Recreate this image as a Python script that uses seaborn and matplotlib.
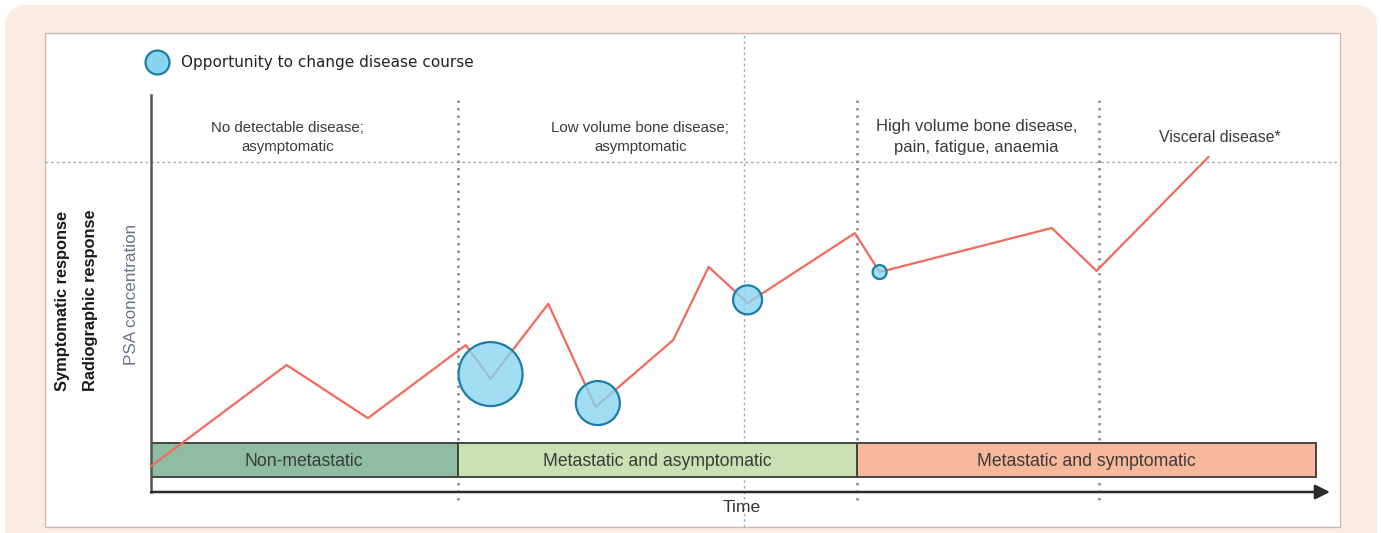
import matplotlib
matplotlib.use("Agg")
import matplotlib.pyplot as plt
import seaborn as sns
import pandas as pd
from matplotlib.patches import FancyBboxPatch, Rectangle

# ---------------- data ----------------
time = [0.0, 11.5, 18.4, 26.7, 28.8, 33.7, 37.7, 44.3, 47.3, 50.6, 59.7, 61.8, 76.4, 80.2, 89.7]
psa = [6.5, 32.0, 18.6, 37.0, 28.5, 47.4, 21.4, 38.3, 56.7, 47.6, 65.2, 55.4, 66.5, 55.7, 84.4]

opp_time = [28.8, 37.9, 50.6, 61.8]
opp_psa = [29.7, 22.4, 48.4, 55.4]
opp_size = [32, 22, 14.5, 7]          # relative magnitude of opportunity

phase_names = ["Non-metastatic", "Metastatic and asymptomatic", "Metastatic and symptomatic"]
phase_start = [0.0, 26.0, 59.9]
phase_end = [26.0, 59.9, 98.8]
phase_colors = ["#8fbda2", "#cae1b4", "#f8b89b"]

stage_labels = ["No detectable disease;\nasymptomatic",
                "Low volume bone disease;\nasymptomatic",
                "High volume bone disease,\npain, fatigue, anaemia",
                "Visceral disease*"]
stage_label_x = [11.6, 41.5, 70.0, 90.7]
stage_label_fs = [10.8, 10.8, 12.0, 11.4]
stage_bounds = [26.0, 59.9, 80.4]
midline_x = 50.3
visceral_threshold = 83.1

# ---------------- style ----------------
sns.set_theme(style="white")
plt.rcParams["font.family"] = ["Liberation Sans", "DejaVu Sans"]

W, H = 1381, 533
fig = plt.figure(figsize=(W / 100, H / 100), dpi=100, facecolor="white")

bg = fig.add_axes([0, 0, 1, 1], zorder=0)
bg.set_xlim(0, W)
bg.set_ylim(H, 0)
bg.axis("off")
bg.add_patch(FancyBboxPatch((5, 5), 1372, 580, boxstyle="round,pad=0,rounding_size=22",
                            facecolor="#fbede3", edgecolor="none"))
bg.add_patch(Rectangle((45, 33), 1295, 494, facecolor="white", edgecolor="#c9bbb2", lw=1))

ax = fig.add_axes([151 / W, (H - 492) / H, 1179 / W, 397 / H], zorder=2)
ax.set_facecolor("none")
ax.set_xlim(0, 100)
ax.set_ylim(0, 100)
ax.set_xticks([])
ax.set_yticks([])
for s in ["top", "right", "bottom"]:
    ax.spines[s].set_visible(False)
ax.spines["left"].set_color("#555555")
ax.spines["left"].set_linewidth(1.8)

# x axis arrow
ax.annotate("", xy=(1.0, 0), xytext=(0, 0), xycoords="axes fraction",
            arrowprops=dict(arrowstyle="-|>", color="#2a2a2a", lw=1.8, mutation_scale=22,
                            shrinkA=0, shrinkB=0), annotation_clip=False)

# threshold / boundaries
ax.axhline(visceral_threshold, xmin=-0.09, xmax=1.0085, clip_on=False,
           color="#a7adb1", lw=1.0, dashes=(2, 2), zorder=1)
ax.axvline(midline_x, ymin=-0.088, ymax=1.154, clip_on=False,
           color="#a7adb1", lw=1.0, dashes=(2, 2), zorder=1)
for b in stage_bounds:
    ax.axvline(b, ymin=-0.02, ymax=0.995, clip_on=False, color="#7d8a93",
               lw=1.8, dashes=(1, 2.0), zorder=1)

# phase bars
ax.barh(y=[8.05] * 3, width=[e - s for s, e in zip(phase_start, phase_end)],
        left=phase_start, height=8.5, color=phase_colors, edgecolor="#444444",
        linewidth=1.4, zorder=2)
for n, s, e in zip(phase_names, phase_start, phase_end):
    ax.text((s + e) / 2, 7.8, n, ha="center", va="center", fontsize=12.7,
            color="#3a3a3a", zorder=5)

# PSA line
df = pd.DataFrame({"time": time, "psa": psa})
sns.lineplot(data=df, x="time", y="psa", sort=False, estimator=None, ax=ax,
             color="#f26a5c", lw=1.6, zorder=3)

# opportunity circles
dfo = pd.DataFrame({"time": opp_time, "psa": opp_psa, "size": opp_size})
sizes = [(r * 2 * 0.72) ** 2 for r in opp_size]
sns.scatterplot(data=dfo, x="time", y="psa", ax=ax, s=sizes,
                color=(0.53, 0.83, 0.94, 0.78), edgecolor="#1d7da6", linewidth=1.6,
                zorder=4, legend=False)
ax.set_xlabel("")
ax.set_ylabel("")

# stage labels
for lab, x, fs in zip(stage_labels, stage_label_x, stage_label_fs):
    ax.text(x, 89.4, lab, ha="center", va="center", fontsize=fs, color="#3a3a3a",
            linespacing=1.45, clip_on=False)

# axis labels
fig.text(62 / W, 1 - 301 / H, "Symptomatic response", rotation=90, ha="center", va="center",
         fontsize=11.8, fontweight="bold", color="#1a1a1a")
fig.text(90 / W, 1 - 300 / H, "Radiographic response", rotation=90, ha="center", va="center",
         fontsize=11.8, fontweight="bold", color="#1a1a1a")
fig.text(131 / W, 1 - 294 / H, "PSA concentration", rotation=90, ha="center", va="center",
         fontsize=12.3, color="#66758c")
fig.text(742 / W, 1 - 507 / H, "Time", ha="center", va="center", fontsize=12.6, color="#333333")

# legend
bg.scatter([157], [62], s=(24 * 0.72) ** 2, color="#88d4ef", edgecolor="#1d7da6", linewidth=1.6)
bg.text(181, 63, "Opportunity to change disease course", ha="left", va="center",
        fontsize=11, color="#222222", family=["DejaVu Sans"])

fig.savefig("out.png", dpi=100, facecolor="white")
